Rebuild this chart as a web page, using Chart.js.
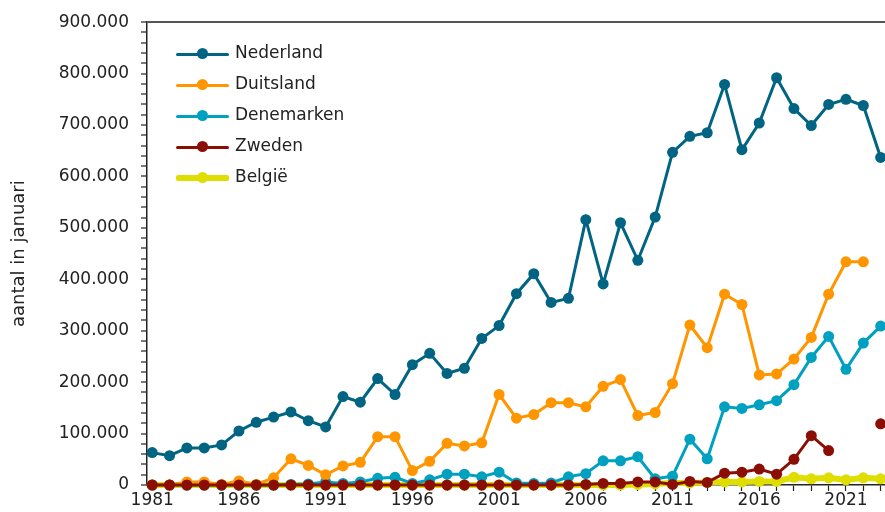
<!DOCTYPE html>
<html>
<head>
<meta charset="utf-8">
<script src="https://cdn.jsdelivr.net/npm/chart.js@4.4.1/dist/chart.umd.min.js"></script>
<style>
  html, body { margin: 0; padding: 0; background: #fff; overflow: hidden; }
  #wrap { position: relative; width: 885px; height: 512px; }
  #chart { display: block; }
  #legend { position: absolute; left: 176px; top: 38px; font: 17px "DejaVu Sans", sans-serif; color: #222; }
  .row { position: relative; height: 31px; }
  .line { position: absolute; left: 0; width: 53px; top: 15px; border-radius: 2px; }
  .dot { position: absolute; left: 21px; width: 11px; height: 11px; border-radius: 50%; top: 10px; }
  .txt { position: absolute; left: 59px; top: 4px; white-space: nowrap; }
</style>
</head>
<body>
<div id="wrap">
  <canvas id="chart" width="885" height="512"></canvas>
  <div id="legend"></div>
</div>
<script>
// jaren 1981 - 2023
const years = [];
for (let y = 1981; y <= 2023; y++) years.push(y);

const nederland = [63000, 57000, 72000, 72000, 78000, 105000, 122000, 132000, 142000, 125000,
  113000, 172000, 161000, 207000, 176000, 234000, 256000, 217000, 227000, 285000,
  310000, 372000, 411000, 355000, 363000, 516000, 391000, 510000, 437000, 521000,
  647000, 678000, 685000, 779000, 652000, 704000, 792000, 732000, 699000, 740000,
  750000, 738000, 637000];
const duitsland = [0, 0, 6000, 6000, 1000, 8000, 1000, 14000, 51000, 38000,
  20000, 37000, 44000, 94000, 94000, 28000, 46000, 81000, 76000, 82000,
  176000, 130000, 137000, 160000, 160000, 152000, 192000, 205000, 135000, 141000,
  197000, 311000, 267000, 371000, 351000, 214000, 216000, 245000, 287000, 371000,
  434000, 434000, null];
const denemarken = [0, 0, 0, 0, 0, 0, 0, 0, 1000, 2000,
  6000, 3000, 6000, 13000, 15000, 3000, 10000, 21000, 21000, 16000,
  25000, 4000, 3000, 4000, 16000, 22000, 47000, 47000, 55000, 12000,
  17000, 89000, 51000, 152000, 149000, 156000, 164000, 195000, 248000, 289000,
  225000, 276000, 309000];
const zweden = [0, 0, 0, 0, 0, 0, 0, 0, 0, 0,
  0, 0, 0, 0, 0, 0, 0, 0, 0, 0,
  0, 0, 0, 0, 0, 1000, 3000, 3000, 6000, 6000,
  1000, 7000, 5000, 23000, 25000, 31000, 21000, 50000, 96000, 67000,
  null, null, 119000];
const belgie = [0, 0, 0, 0, 0, 0, 0, 0, 0, 0,
  0, 0, 0, 0, 0, 0, 0, 0, 0, 0,
  0, 0, 0, 0, 0, 0, 0, 0, 1000, 2000,
  4000, 4000, 5000, 6000, 6000, 7000, 7000, 15000, 12000, 14000,
  10000, 14000, 12000];

const yTicks = [0, 100000, 200000, 300000, 400000, 500000, 600000, 700000, 800000, 900000];
const xTicks = [1981, 1986, 1991, 1996, 2001, 2006, 2011, 2016, 2021];

const series = [
  { label: 'Nederland', data: nederland, color: '#006482', width: 3, order: 1 },
  { label: 'Duitsland', data: duitsland, color: '#FF9600', width: 3, order: 2 },
  { label: 'Denemarken', data: denemarken, color: '#00A0C1', width: 3, order: 3 },
  { label: 'Zweden', data: zweden, color: '#8B0E04', width: 3, order: 0 },
  { label: 'België', data: belgie, color: '#E0DE00', width: 6, order: 4 }
];

function fmt(v) {
  return String(v).replace(/\B(?=(\d{3})+(?!\d))/g, '.');
}

const font = { family: '"DejaVu Sans", sans-serif', size: 17 };

new Chart(document.getElementById('chart'), {
  type: 'line',
  data: {
    datasets: series.map(s => ({
      label: s.label,
      data: years.map((y, i) => ({ x: y, y: s.data[i] })),
      borderColor: s.color,
      backgroundColor: s.color,
      borderWidth: s.width,
      pointRadius: 5.5,
      pointHoverRadius: 5.5,
      pointBorderWidth: 0,
      order: s.order,
      clip: false,
      spanGaps: false
    }))
  },
  options: {
    responsive: false,
    animation: false,
    layout: { autoPadding: false, padding: { top: 16, left: 0, right: 0, bottom: 0 } },
    scales: {
      x: {
        type: 'linear',
        min: 1980.7,
        max: 2023.25,
        afterFit: s => { s.height = 27; s.paddingLeft = 0; s.paddingRight = 0; },
        border: { color: '#222', width: 1.5 },
        grid: { drawOnChartArea: false, tickLength: 6, tickColor: '#222', tickWidth: 1.2 },
        ticks: {
          stepSize: 1,
          includeBounds: false,
          autoSkip: false,
          maxRotation: 0,
          padding: -1,
          color: '#222',
          font: font,
          callback: v => xTicks.includes(v) ? String(v) : ''
        }
      },
      y: {
        min: 0,
        max: 900000,
        afterFit: s => { s.width = 147; },
        border: { color: '#222', width: 1.5 },
        grid: {
          color: c => (c.tick && c.tick.value === 900000) ? '#555' : 'rgba(0,0,0,0)',
          lineWidth: 2,
          tickLength: 6,
          tickColor: '#222',
          tickWidth: 1.2
        },
        ticks: {
          stepSize: 20000,
          autoSkip: false,
          padding: 12,
          color: '#222',
          font: font,
          callback: v => yTicks.includes(v) ? fmt(v) : ''
        },
        title: {
          display: true,
          text: 'aantal in januari',
          color: '#222',
          font: { family: font.family, size: 18 },
          padding: { top: 9, bottom: 0 }
        }
      }
    },
    plugins: {
      legend: { display: false },
      tooltip: { enabled: false }
    }
  }
});

// legenda
const legend = document.getElementById('legend');
series.forEach(s => {
  const row = document.createElement('div');
  row.className = 'row';
  const h = s.width;
  row.innerHTML = '<div class="line" style="background:' + s.color + ';height:' + h + 'px;margin-top:' + (-h / 2 + 1) + 'px"></div>' +
    '<div class="dot" style="background:' + s.color + '"></div>' +
    '<div class="txt">' + s.label + '</div>';
  legend.appendChild(row);
});
</script>
</body>
</html>
